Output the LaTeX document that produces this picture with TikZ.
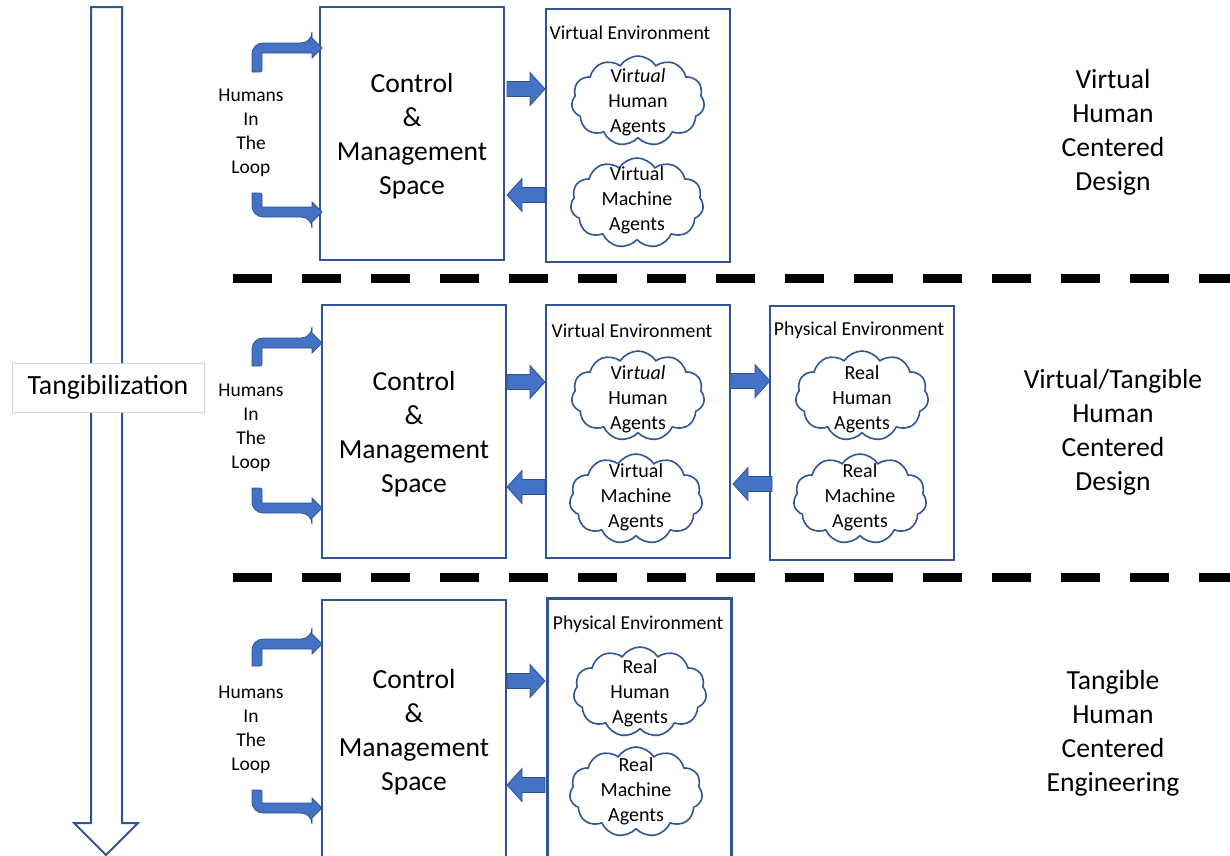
\documentclass[tikz,border=0pt]{standalone}
\usepackage{fontspec}
\setmainfont{Carlito}
\usetikzlibrary{shapes.symbols}
\definecolor{boxblue}{HTML}{2F5597}
\definecolor{arrfill}{HTML}{4472C4}
\definecolor{arrline}{HTML}{2F528F}
\tikzset{
 box/.style={draw=boxblue, line width=2pt, fill=white},
 blk/.style={fill=arrfill, draw=arrline, line width=0.8pt},
 cloudy/.style={cloud, cloud puffs=11, cloud puff arc=115, cloud ignores aspect, draw=boxblue, line width=1.6pt, minimum width=133pt, minimum height=90pt, inner sep=0pt},
 ctext/.style={align=center, font=\fontsize{20}{25}\selectfont, inner sep=0pt, yshift=-2.5pt},
 bigtext/.style={align=center, font=\fontsize{27.6}{34}\selectfont, inner sep=0pt},
 bigtextsh/.style={bigtext, yshift=-2.5pt},
 hitl/.style={align=center, font=\fontsize{19.5}{24}\selectfont, inner sep=0pt, yshift=-2.5pt},
 envlabel/.style={font=\fontsize{19.7}{22}\selectfont, inner sep=0pt, yshift=-1.5pt},
 divider/.style={line width=9pt, dash pattern=on 39pt off 30pt},
}
% right block arrow: start x, tip x, y
\newcommand\blkR[3]{\filldraw[blk] (#1,#3-7.5) -- (#2-15,#3-7.5) -- (#2-15,#3-16.5) -- (#2,#3) -- (#2-15,#3+16.5) -- (#2-15,#3+7.5) -- (#1,#3+7.5) -- cycle;}
% left block arrow: start x (right), tip x (left), y
\newcommand\blkL[3]{\filldraw[blk] (#1,#3-7.5) -- (#2+15,#3-7.5) -- (#2+15,#3-16.5) -- (#2,#3) -- (#2+15,#3+16.5) -- (#2+15,#3+7.5) -- (#1,#3+7.5) -- cycle;}
% bent arrow coming up from below: x of shaft, bottom y, horizontal y, tip x
\newcommand\bentUp[4]{\filldraw[blk] (#1,#2) [rounded corners=11pt] -- (#1,#3-5) -- (#4-10,#3-5) [sharp corners] -- (#4-10,#3-10) -- (#4,#3) -- (#4-10,#3+10) -- (#4-10,#3+5) -- (#1+10,#3+5) [rounded corners=2pt] -- (#1+10,#2) [sharp corners] -- cycle;}
% bent arrow coming down from above: x of shaft, top y, horizontal y, tip x
\newcommand\bentDown[4]{\filldraw[blk] (#1,#2) [rounded corners=11pt] -- (#1,#3+5) -- (#4-10,#3+5) [sharp corners] -- (#4-10,#3+10) -- (#4,#3) -- (#4-10,#3-10) -- (#4-10,#3-5) -- (#1+10,#3-5) [rounded corners=2pt] -- (#1+10,#2) [sharp corners] -- cycle;}
\begin{document}
\begin{tikzpicture}[x=1pt,y=-1pt]
\useasboundingbox (0,0) rectangle (1230,855);
% big tangibilization arrow
\filldraw[draw=boxblue, fill=white, line width=2pt] (91,7) -- (122,7) -- (122,823) -- (138,823) -- (106,855) -- (74,823) -- (91,823) -- cycle;
\node[draw=gray!35, fill=white, minimum width=192pt, minimum height=49pt, inner sep=0pt, font=\fontsize{27.8}{30}\selectfont] (tang) at (108,387.5) {Tangibilization};
% dividers
\coordinate (d1a) at (233,278.5);
\coordinate (d1b) at (1240,278.5);
\coordinate (d2a) at (233,577);
\coordinate (d2b) at (1240,577);
\draw[divider] (d1a) -- (d1b);
\draw[divider] (d2a) -- (d2b);

% ---------- Row 1 ----------
\node[box, minimum width=184pt, minimum height=253pt] (ctrl1) at (412,133.5) {};
\node[bigtextsh] (ct1) at (ctrl1.center) {Control\\\&\\Management\\Space};
\node[box, minimum width=184pt, minimum height=253pt] (venv1) at (638,135.5) {};
\node[envlabel] (vlab1) at (630,31) {Virtual Environment};
\node[cloudy] (c11) at (638,101) {};
\node[ctext] (t11) at (638,100) {Vir\textit{tual}\\Human\\Agents};
\node[cloudy] (c12) at (637,203) {};
\node[ctext] (t12) at (637,198) {Virtual\\Machine\\Agents};
\node[hitl] (h1) at (251,130.5) {Humans\\In\\The\\Loop};
\node[bigtextsh] (r1) at (1113,130) {Virtual\\Human\\Centered\\Design};
\bentUp{252}{72}{48}{322}
\bentDown{252}{193}{212}{322}
\blkR{507}{545}{89}
\blkL{545}{507}{195}

% ---------- Row 2 ----------
\node[box, minimum width=184pt, minimum height=253pt] (ctrl2) at (414,431.5) {};
\node[bigtextsh] (ct2) at (ctrl2.center) {Control\\\&\\Management\\Space};
\node[box, minimum width=184pt, minimum height=253pt] (venv2) at (638,431.5) {};
\node[box, minimum width=184pt, minimum height=254pt] (penv2) at (862,433) {};
\node[envlabel] (vlab2) at (632,329) {Virtual Environment};
\node[envlabel] (plab2) at (859,329) {Physical Environment};
\node[cloudy] (c21) at (638,396) {};
\node[ctext] (t21) at (638,397) {Vir\textit{tual}\\Human\\Agents};
\node[cloudy] (c22) at (636,499) {};
\node[ctext] (t22) at (636,495) {Virtual\\Machine\\Agents};
\node[cloudy] (c23) at (862,396) {};
\node[ctext] (t23) at (862,397) {Real\\Human\\Agents};
\node[cloudy] (c24) at (860,499) {};
\node[ctext] (t24) at (860,495) {Real\\Machine\\Agents};
\node[hitl] (h2) at (251,425.5) {Humans\\In\\The\\Loop};
\node[bigtextsh] (r2) at (1113,430) {Virtual/Tangible\\Human\\Centered\\Design};
\bentUp{252}{366}{343}{322}
\bentDown{252}{488}{508}{322}
\blkR{507}{545}{382}
\blkL{545}{507}{487}
\blkR{730}{770}{381}
\blkL{772}{733}{484}

% ---------- Row 3 ----------
\node[box, minimum width=184pt, minimum height=260pt] (ctrl3) at (414,730) {};
\node[bigtextsh] (ct3) at (ctrl3.center) {Control\\\&\\Management\\Space};
\node[box, line width=3pt, minimum width=184pt, minimum height=262pt] (penv3) at (639,729) {};
\node[envlabel] (plab3) at (638,623) {Physical Environment};
\node[cloudy] (c31) at (640,692) {};
\node[ctext] (t31) at (640,691) {Real\\Human\\Agents};
\node[cloudy] (c32) at (636,792) {};
\node[ctext] (t32) at (636,789) {Real\\Machine\\Agents};
\node[hitl] (h3) at (251,727) {Humans\\In\\The\\Loop};
\node[bigtextsh] (r3) at (1113,730.5) {Tangible\\Human\\Centered\\Engineering};
\bentUp{252}{666}{644}{322}
\bentDown{252}{790}{808}{322}
\blkR{507}{545}{681}
\blkL{545}{507}{785}
\end{tikzpicture}
\end{document}
